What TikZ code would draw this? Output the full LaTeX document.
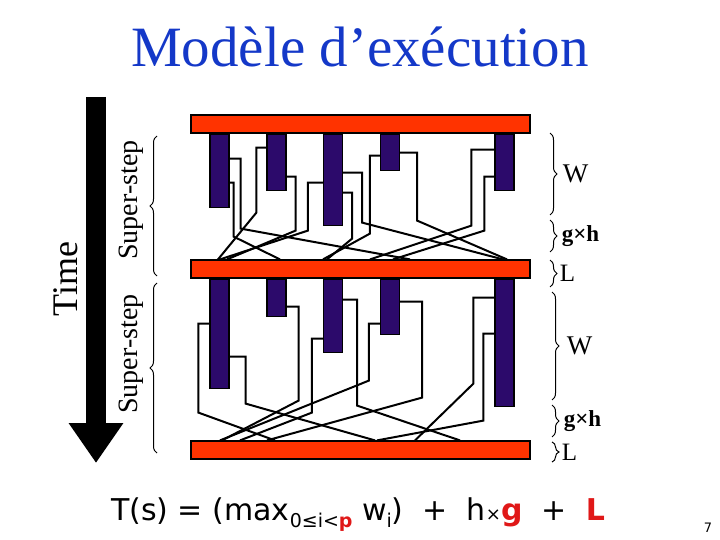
\documentclass[tikz,border=0pt]{standalone}
\usepackage{fontspec}
\setmainfont{Liberation Serif}
\newfontfamily\formfont{DejaVu Sans}
\usetikzlibrary{positioning, arrows.meta, decorations.pathreplacing}
\definecolor{barred}{HTML}{FF3300}
\definecolor{procblue}{HTML}{2C0A6B}
\definecolor{titleblue}{HTML}{1438C8}
\definecolor{formred}{HTML}{E01818}

\begin{document}
\begin{tikzpicture}[x=1pt, y=-1pt,
	syncbar/.style={rectangle, draw=black, line width=1.2pt, fill=barred, minimum width=339pt, minimum height=18pt, inner sep=0pt},
	proc/.style={rectangle, draw=black, line width=1.2pt, fill=procblue, minimum width=19pt, inner sep=0pt, anchor=north},
	msg/.style={line width=2pt},
	brc/.style={decorate, decoration={brace, amplitude=7pt}, line width=1pt},
	sublbl/.style={font=\fontsize{28}{28}\selectfont, rotate=90}
	]
	\useasboundingbox (0,0) rectangle (720,540);
	\node[text=titleblue, font=\fontsize{57}{57}\selectfont] (title) at (360,47) {Modèle d’exécution};

	% time axis
	\coordinate (t0) at (96,97);
	\coordinate (t1) at (96,463);
	\draw[line width=20pt, -{Triangle[width=52pt, length=40pt]}] (t0) -- (t1);
	\node[font=\fontsize{36}{36}\selectfont, rotate=90] (time) at (66,279) {Time};
	\node[sublbl] (step1) at (131,200) {Super-step};
	\node[sublbl] (step2) at (131,354) {Super-step};
	\draw[brc] (157,276) -- (157,136);
	\draw[brc] (157,453) -- (157,283);

	% barriers
	\node[syncbar] (top) at (360.5,124) {};
	\node[syncbar] (mid) at (360.5,269) {};
	\node[syncbar] (bot) at (360.5,450) {};

	% local work
	\foreach \n/\x/\h in {1/219.5/73, 2/276.5/56, 3/333/91, 4/390/36, 5/504.5/56}
		\node[proc, minimum height=\h pt] (a\n) at (top.south -| \x,0) {};
	\foreach \n/\x/\h in {1/219.5/109, 2/276.5/37, 3/333/73, 4/390/55, 5/504.5/127}
		\node[proc, minimum height=\h pt] (b\n) at (mid.south -| \x,0) {};

	% first exchange
	\draw[msg] ([yshift=-25pt]a1.north east) -- ++(11,0) -- ++(0,70) -- (410,0 |- mid.north);
	\draw[msg] ([yshift=-49pt]a1.north east) -- ++(4,0) -- ++(0,54) -- (280,0 |- mid.north);
	\draw[msg] ([yshift=-14pt]a2.north west) -- ++(-10,0) -- ++(0,65) -- (218,0 |- mid.north);
	\draw[msg] ([yshift=-43pt]a2.north east) -- ++(9,0) -- ++(0,54) -- (227,0 |- mid.north);
	\draw[msg] ([yshift=-49pt]a3.north west) -- ++(-15,0) -- ++(0,48) -- (220,0 |- mid.north);
	\draw[msg] ([yshift=-39pt]a3.north east) -- ++(19,0) -- ++(0,50) -- (503,0 |- mid.north);
	\draw[msg] ([yshift=-59pt]a3.north east) -- ++(9,0) -- ++(0,46) -- (327,0 |- mid.north);
	\draw[msg] ([yshift=-22pt]a4.north west) -- ++(-10,0) -- ++(0,78) -- (323,0 |- mid.north);
	\draw[msg] ([yshift=-19pt]a4.north east) -- ++(17,0) -- ++(0,68) -- (507,0 |- mid.north);
	\draw[msg] ([yshift=-16pt]a5.north west) -- ++(-23,0) -- ++(0,76) -- (370,0 |- mid.north);
	\draw[msg] ([yshift=-43pt]a5.north west) -- ++(-10,0) -- ++(0,54) -- (393,0 |- mid.north);

	% second exchange
	\draw[msg] ([yshift=-45pt]b1.north west) -- ++(-11,0) -- ++(0,89) -- (275,0 |- bot.north);
	\draw[msg] ([yshift=-78pt]b1.north east) -- ++(16,0) -- ++(0,47) -- (375,0 |- bot.north);
	\draw[msg] ([yshift=-28pt]b2.north east) -- ++(12,0) -- ++(0,94) -- (222,0 |- bot.north);
	\draw[msg] ([yshift=-60pt]b3.north west) -- ++(-11,0) -- ++(0,74) -- (240,0 |- bot.north);
	\draw[msg] ([yshift=-21pt]b3.north east) -- ++(14,0) -- ++(0,106) -- (460,0 |- bot.north);
	\draw[msg] ([yshift=-45pt]b4.north west) -- ++(-11,0) -- ++(0,57) -- (220,0 |- bot.north);
	\draw[msg] ([yshift=-23pt]b4.north east) -- ++(22,0) -- ++(0,96) -- (267,0 |- bot.north);
	\draw[msg] ([yshift=-19pt]b5.north west) -- ++(-21,0) -- ++(0,86) -- (415,0 |- bot.north);
	\draw[msg] ([yshift=-55pt]b5.north west) -- ++(-11,0) -- ++(0,87) -- (377,0 |- bot.north);

	% cost braces
	\draw[brc] (550,133) -- (550,215) node[midway, right=9pt, font=\fontsize{27}{27}\selectfont] (w1) {W};
	\draw[brc] (550,220) -- (550,252) node[midway, right=8pt, font=\bfseries\fontsize{23}{23}\selectfont] (gh1) {g×h};
	\draw[brc] (550,260) -- (550,287) node[midway, right=6pt, font=\fontsize{25}{25}\selectfont] (l1) {L};
	\draw[brc] (552,292) -- (552,400) node[midway, right=11pt, font=\fontsize{27}{27}\selectfont] (w2) {W};
	\draw[brc] (552,405) -- (552,437) node[midway, right=8pt, font=\bfseries\fontsize{23}{23}\selectfont] (gh2) {g×h};
	\draw[brc] (552,442) -- (552,462) node[midway, right=6pt, font=\fontsize{25}{25}\selectfont] (l2) {L};

	\node[font=\formfont\fontsize{30}{30}\selectfont, anchor=base] (cost) at (358,520) {T(s) = (max\raisebox{-7pt}{\fontsize{19}{19}\selectfont 0≤i<\textcolor{formred}{\bfseries p}} w\raisebox{-7pt}{\fontsize{19}{19}\selectfont i})\ \ +\ \ h{\fontsize{18}{18}\selectfont×}\textcolor{formred}{\bfseries g}\ \ +\ \ \textcolor{formred}{\bfseries L}};
	\node[font=\formfont\fontsize{13}{13}\selectfont] (pagenum) at (708,528) {7};
\end{tikzpicture}
\end{document}
